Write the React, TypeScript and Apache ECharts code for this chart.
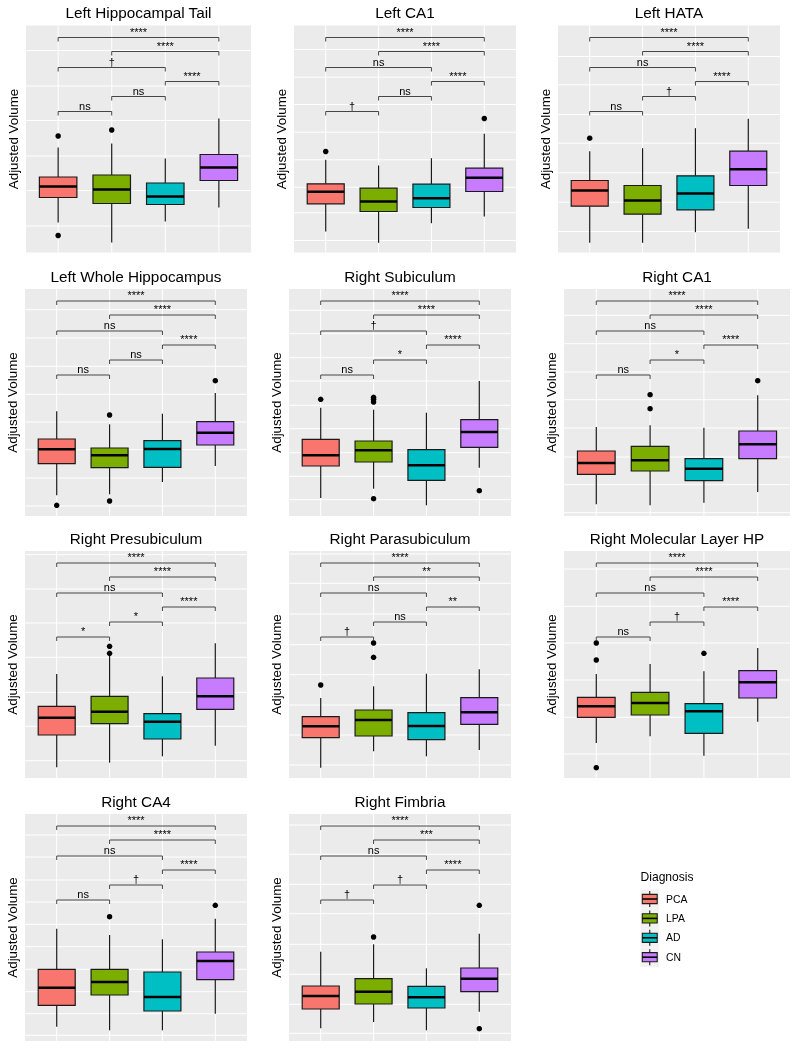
import React, { useEffect, useRef } from 'react';
import * as echarts from 'echarts';

// ---------- data ----------
const categories = ['PCA', 'LPA', 'AD', 'CN'];
const groupColors = ['#F8766D', '#7CAE00', '#00BFC4', '#C77CFF'];
const yAxisTitle = 'Adjusted Volume';
const legendTitle = 'Diagnosis';

const panelTitles = [
  'Left Hippocampal Tail',
  'Left CA1',
  'Left HATA',
  'Left Whole Hippocampus',
  'Right Subiculum',
  'Right CA1',
  'Right Presubiculum',
  'Right Parasubiculum',
  'Right Molecular Layer HP',
  'Right CA4',
  'Right Fimbria',
];

// comparisons (category index pairs), their bracket heights (same for every panel)
const comparisonPairs = [[0, 3], [1, 3], [0, 2], [2, 3], [1, 2], [0, 1]];
const comparisonLevels = [215, 201, 185, 171, 156, 141];

// box stats per group: [lower whisker, Q1, median, Q3, upper whisker]
const leftHippocampalTailBoxes = [[30, 55, 66, 75.5, 105], [10, 49, 63, 77.5, 109], [31, 48, 56, 69.5, 94], [45, 72, 85, 98, 134]];
const leftHippocampalTailOutliers = [[0, 116.5], [0, 17], [1, 122.5]];
const leftHippocampalTailSignif = ['****', '****', '†', '****', 'ns', 'ns'];
const leftHippocampalTailGrid = [26.5, 62, 96.5, 132, 166.5, 202];

const leftCA1Boxes = [[21, 48.7, 60.7, 68.7, 92.7], [9.7, 41, 51, 64.3, 87], [29.3, 45, 54.3, 68.3, 94.3], [36, 61, 74.7, 84.3, 118.7]];
const leftCA1Outliers = [[0, 101], [3, 134]];
const leftCA1Signif = ['****', '****', 'ns', '****', 'ns', '†'];
const leftCA1Grid = [12, 39.7, 65.3, 92.7, 120.3, 148, 175.3, 203];

const leftHATABoxes = [[9.7, 46.3, 62, 72, 101.3], [9.7, 38.3, 52, 67, 104.3], [20.3, 42.7, 59, 76.7, 124.3], [23.7, 67, 83.3, 101.3, 133.7]];
const leftHATAOutliers = [[0, 114.3]];
const leftHATASignif = ['****', '****', 'ns', '****', '†', 'ns'];
const leftHATAGrid = [21, 50.3, 79.7, 109.3, 138, 167.7, 196];

const leftWholeBoxes = [[20.7, 52.3, 66.7, 77, 104.7], [21.7, 48.3, 60.7, 68, 91.7], [34, 48.7, 67, 75.3, 102.3], [50, 71, 83.3, 94.3, 123]];
const leftWholeOutliers = [[0, 10.7], [1, 101], [1, 15], [3, 135.3]];
const leftWholeSignif = ['****', '****', 'ns', '****', 'ns', 'ns'];
const leftWholeGrid = [10, 38, 66.3, 94, 121.7, 149.7, 178, 206.3];

const rightSubiculumBoxes = [[18, 50, 60.7, 76.7, 108.3], [27.3, 54, 65.7, 75, 106.3], [10.7, 35.7, 50.7, 66.3, 103.3], [48.3, 68.7, 84, 96.3, 135]];
const rightSubiculumOutliers = [[0, 116.7], [1, 118.7], [1, 116.7], [1, 114], [1, 17.3], [3, 25.3]];
const rightSubiculumSignif = ['****', '****', '†', '****', '*', 'ns'];
const rightSubiculumGrid = [16.3, 39.7, 63.3, 87.3, 110.7, 135, 158.3, 182.3, 205.7];

const rightCA1Boxes = [[11.7, 41.7, 53, 65, 89], [10.7, 45, 55.7, 69.7, 90.7], [13.3, 35.3, 47.3, 57.3, 88.3], [24, 57.3, 71.7, 85, 120.7]];
const rightCA1Outliers = [[1, 121.3], [1, 107.3], [3, 135.3]];
const rightCA1Signif = ['****', '****', 'ns', '****', '*', 'ns'];
const rightCA1Grid = [3.3, 31.3, 59, 88, 116.3, 144, 172.3, 200.7];

const rightPresubiculumBoxes = [[10.7, 43, 60.3, 71.7, 104], [15.3, 54.3, 66.3, 81.7, 122.3], [21.7, 39, 56.3, 64.3, 101.7], [32.3, 68.7, 81.7, 100, 134.7]];
const rightPresubiculumOutliers = [[1, 131.7], [1, 124.7]];
const rightPresubiculumSignif = ['****', '****', 'ns', '****', '*', '*'];
const rightPresubiculumGrid = [17.3, 51.7, 85.7, 120.7, 155, 189, 223.3];

const rightParasubiculumBoxes = [[10.3, 40.3, 51.7, 61.3, 80], [26.7, 42, 58, 68, 91.7], [21.7, 38.3, 52, 65.3, 104.3], [28, 53.7, 65.7, 80.3, 108.7]];
const rightParasubiculumOutliers = [[0, 93], [1, 135], [1, 120.7]];
const rightParasubiculumSignif = ['****', '**', 'ns', '**', 'ns', '†'];
const rightParasubiculumGrid = [13, 43, 73, 103.3, 133.3, 164, 194.7, 224];

const rightMolecularBoxes = [[35, 60.7, 71.7, 80.7, 104], [41.7, 63, 75, 85.7, 114], [22.3, 44.7, 66.7, 74.3, 106.7], [56.3, 80, 95.7, 107.3, 130]];
const rightMolecularOutliers = [[0, 135], [0, 118], [0, 10.3], [2, 124.7]];
const rightMolecularSignif = ['****', '****', 'ns', '****', '†', 'ns'];
const rightMolecularGrid = [24, 60.7, 98, 135, 171.7, 209];

const rightCA4Boxes = [[14.3, 35.7, 53.3, 71.7, 112.3], [10.7, 46, 59, 71.7, 106], [10.7, 30, 44, 69, 101.7], [27.3, 61.3, 80, 89, 122.3]];
const rightCA4Outliers = [[1, 124.3], [3, 135.7]];
const rightCA4Signif = ['****', '****', 'ns', '****', '†', 'ns'];
const rightCA4Grid = [5.7, 27.3, 49.3, 71.7, 94.3, 116.7, 139, 161, 184, 206];

const rightFimbriaBoxes = [[12.7, 32, 45, 55, 89.3], [19, 37, 49.3, 62.3, 96.7], [10.7, 33, 43.7, 54.7, 72.7], [29.3, 49.3, 62.3, 73, 107.3]];
const rightFimbriaOutliers = [[1, 104], [3, 135.7], [3, 12.3]];
const rightFimbriaSignif = ['****', '***', 'ns', '****', '†', '†'];
const rightFimbriaGrid = [7.7, 36.7, 66.7, 96.7, 127.3, 156.7, 186.7, 216];

const panelBoxes = [leftHippocampalTailBoxes, leftCA1Boxes, leftHATABoxes, leftWholeBoxes, rightSubiculumBoxes, rightCA1Boxes, rightPresubiculumBoxes, rightParasubiculumBoxes, rightMolecularBoxes, rightCA4Boxes, rightFimbriaBoxes];
const panelOutliers = [leftHippocampalTailOutliers, leftCA1Outliers, leftHATAOutliers, leftWholeOutliers, rightSubiculumOutliers, rightCA1Outliers, rightPresubiculumOutliers, rightParasubiculumOutliers, rightMolecularOutliers, rightCA4Outliers, rightFimbriaOutliers];
const panelSignif = [leftHippocampalTailSignif, leftCA1Signif, leftHATASignif, leftWholeSignif, rightSubiculumSignif, rightCA1Signif, rightPresubiculumSignif, rightParasubiculumSignif, rightMolecularSignif, rightCA4Signif, rightFimbriaSignif];
const panelGrids = [leftHippocampalTailGrid, leftCA1Grid, leftHATAGrid, leftWholeGrid, rightSubiculumGrid, rightCA1Grid, rightPresubiculumGrid, rightParasubiculumGrid, rightMolecularGrid, rightCA4Grid, rightFimbriaGrid];

// ---------- layout ----------
const Y_MAX = 227;
const PANEL_H = 227;
const BOX_WIDTH = 0.7;
// [left, top, width]
const panelRects = [
  [26, 25.5, 225], [294, 25.5, 222], [558, 25.5, 222],
  [25, 289, 222], [289, 289, 222], [564, 289, 226],
  [25, 551, 222], [289, 551, 222], [564, 551, 226],
  [25, 814, 222], [289, 814, 222],
];
const FONT = '"Liberation Sans", Arial, Helvetica, sans-serif';

function textStyle(text: string, size: number, align: string, vAlign: string) {
  return { text, fontSize: size, fontFamily: FONT, fontWeight: 'normal', fill: '#000000', align, verticalAlign: vAlign };
}

function buildOption() {
  const grid: any[] = [];
  const xAxis: any[] = [];
  const yAxis: any[] = [];
  const series: any[] = [];
  const graphic: any[] = [];

  panelTitles.forEach((title, i) => {
    const [left, top, width] = panelRects[i];
    grid.push({ left, top, width, height: PANEL_H, show: true, backgroundColor: '#EBEBEB', borderWidth: 0 });
    xAxis.push({
      type: 'value', gridIndex: i, min: -0.6, max: 3.6,
      axisLine: { show: false }, axisTick: { show: false }, axisLabel: { show: false }, splitLine: { show: false },
    });
    yAxis.push({
      type: 'value', gridIndex: i, min: 0, max: Y_MAX,
      name: yAxisTitle, nameLocation: 'middle', nameGap: 6,
      nameTextStyle: { fontSize: 13.4, color: '#000', fontFamily: FONT },
      axisLine: { show: false }, axisTick: { show: false }, axisLabel: { show: false }, splitLine: { show: false },
    });
    graphic.push({
      type: 'text', x: left + width / 2, y: top - 13, silent: true,
      style: textStyle(title, 15.3, 'center', 'middle'),
    });

    // grid lines: [kind (0 horizontal, 1 vertical), value]
    const gridData = [
      ...panelGrids[i].map((v) => [0, v]),
      ...categories.map((_, k) => [1, k]),
    ];
    series.push({
      type: 'custom', xAxisIndex: i, yAxisIndex: i, z: 1, silent: true,
      data: gridData, encode: { x: 1, y: 1 },
      renderItem: (params: any, api: any) => {
        const kind = api.value(0);
        const val = api.value(1);
        const cs = params.coordSys;
        if (kind === 0) {
          const p = api.coord([0, val]);
          return { type: 'line', shape: { x1: cs.x, y1: p[1], x2: cs.x + cs.width, y2: p[1] }, style: { stroke: '#FFFFFF', lineWidth: 1 } };
        }
        const p = api.coord([val, 0]);
        return { type: 'line', shape: { x1: p[0], y1: cs.y, x2: p[0], y2: cs.y + cs.height }, style: { stroke: '#FFFFFF', lineWidth: 1 } };
      },
    });

    // boxes
    series.push({
      type: 'custom', name: title, xAxisIndex: i, yAxisIndex: i, z: 2,
      data: panelBoxes[i].map((b, k) => [k, ...b]),
      encode: { x: 0, y: [1, 2, 3, 4, 5] },
      renderItem: (params: any, api: any) => {
        const x = api.value(0);
        const lo = api.coord([x, api.value(1)]);
        const q1 = api.coord([x, api.value(2)]);
        const md = api.coord([x, api.value(3)]);
        const q3 = api.coord([x, api.value(4)]);
        const hi = api.coord([x, api.value(5)]);
        const w = api.size([BOX_WIDTH, 0])[0];
        const cx = lo[0];
        const stroke = '#1A1A1A';
        return {
          type: 'group',
          children: [
            { type: 'line', shape: { x1: cx, y1: hi[1], x2: cx, y2: q3[1] }, style: { stroke, lineWidth: 1.2 } },
            { type: 'line', shape: { x1: cx, y1: q1[1], x2: cx, y2: lo[1] }, style: { stroke, lineWidth: 1.2 } },
            { type: 'rect', shape: { x: cx - w / 2, y: q3[1], width: w, height: q1[1] - q3[1] }, style: { fill: groupColors[x], stroke, lineWidth: 1.2 } },
            { type: 'line', shape: { x1: cx - w / 2, y1: md[1], x2: cx + w / 2, y2: md[1] }, style: { stroke: '#000', lineWidth: 2.4 } },
          ],
        };
      },
    });

    // outliers
    series.push({
      type: 'scatter', xAxisIndex: i, yAxisIndex: i, z: 3, silent: true,
      data: panelOutliers[i], symbolSize: 5.5, itemStyle: { color: '#000', opacity: 1 },
    });

    // significance brackets
    const labels = panelSignif[i];
    series.push({
      type: 'custom', xAxisIndex: i, yAxisIndex: i, z: 4, silent: true,
      data: comparisonPairs.map((p, j) => [p[0], p[1], comparisonLevels[j]]),
      encode: { x: [0, 1], y: 2 },
      renderItem: (params: any, api: any) => {
        const a = api.coord([api.value(0), api.value(2)]);
        const b = api.coord([api.value(1), api.value(2)]);
        const tip = 4;
        return {
          type: 'group',
          children: [
            { type: 'polyline', shape: { points: [[a[0], a[1] + tip], [a[0], a[1]], [b[0], b[1]], [b[0], b[1] + tip]] }, style: { stroke: '#333333', lineWidth: 0.9, fill: 'none' } },
            {
              type: 'text', x: (a[0] + b[0]) / 2, y: a[1] - 0.5,
              style: textStyle(labels[params.dataIndex], 11, 'center', 'bottom'),
            },
          ],
        };
      },
    });
  });

  // legend (drawn)
  const legX = 640.5;
  const legRow0 = 899;
  const legStep = 19.4;
  graphic.push({ type: 'text', x: legX, y: 877, silent: true, style: textStyle(legendTitle, 12.1, 'left', 'middle') });
  categories.forEach((name, k) => {
    const cy = legRow0 + k * legStep;
    graphic.push({ type: 'rect', silent: true, shape: { x: legX, y: cy - legStep / 2, width: 18.5, height: legStep }, style: { fill: '#F2F2F2' } });
    graphic.push({ type: 'line', silent: true, shape: { x1: legX + 9.25, y1: cy - 8, x2: legX + 9.25, y2: cy + 8 }, style: { stroke: '#1A1A1A', lineWidth: 1.1 } });
    graphic.push({ type: 'rect', silent: true, shape: { x: legX + 1.8, y: cy - 4.6, width: 14.9, height: 9.2 }, style: { fill: groupColors[k], stroke: '#1A1A1A', lineWidth: 1.1 } });
    graphic.push({ type: 'line', silent: true, shape: { x1: legX + 1.8, y1: cy, x2: legX + 16.7, y2: cy }, style: { stroke: '#000', lineWidth: 1.6 } });
    graphic.push({ type: 'text', x: 666, y: cy, silent: true, style: textStyle(name, 10.4, 'left', 'middle') });
  });

  return {
    animation: false,
    backgroundColor: '#FFFFFF',
    textStyle: { fontFamily: FONT },
    grid, xAxis, yAxis, series, graphic,
  };
}

export default function App() {
  const ref = useRef<HTMLDivElement>(null);
  useEffect(() => {
    if (!ref.current) return;
    const chart = echarts.init(ref.current, null, { renderer: 'svg' });
    chart.setOption(buildOption());
    return () => chart.dispose();
  }, []);
  return (
    <div
      ref={ref}
      style={{ position: 'absolute', left: 0, top: 0, width: 798, height: 1050, willChange: 'transform' }}
    />
  );
}
